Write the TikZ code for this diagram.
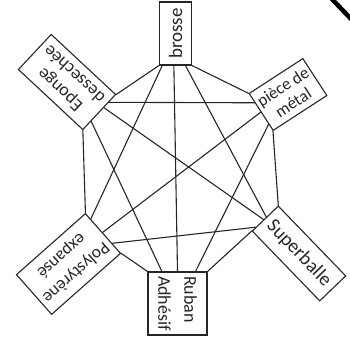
\documentclass[tikz,border=0pt]{standalone}
\usepackage{fontspec}
\setmainfont{Carlito}
\usetikzlibrary{calc}
\tikzset{
    matbox/.style={draw, rectangle, align=center, inner sep=2pt, line width=1.1pt, font=\fontsize{18}{21}\selectfont},
    matline/.style={draw, line width=1.1pt, line cap=round},
    scanmark/.style={draw, line width=4.5pt}
}

\begin{document}
\begin{tikzpicture}[x=1pt, y=1pt, color=black!85]
    \useasboundingbox (0,0) rectangle (350,350);
    \node[matbox, rotate=90, minimum width=63pt, minimum height=32pt, font=\fontsize{19}{21}\selectfont] (brosse) at (175.5,316.5) {brosse};
    \node[matbox, rotate=33, minimum width=64pt, minimum height=44pt, font=\fontsize{17}{19}\selectfont] (metal) at (288,255.5) {pièce de\\métal};
    \node[matbox, rotate=-46, minimum width=97pt, minimum height=36pt, font=\fontsize{19.5}{21}\selectfont] (superballe) at (299,96.5) {Superballe};
    \node[matbox, rotate=-90, minimum width=63pt, minimum height=59pt, align=left, font=\fontsize{18}{26}\selectfont] (ruban) at (177.5,46.5) {Ruban\\Adhésif};
    \node[matbox, rotate=221.5, minimum width=92pt, minimum height=53pt, font=\fontsize{17.5}{22}\selectfont] (poly) at (68.5,86) {Polystyrène\\expansé};
    \node[matbox, rotate=137, minimum width=88pt, minimum height=48pt, font=\fontsize{18}{21}\selectfont] (eponge) at (67,268) {Eponge\\dessechée};

    \foreach \src/\dst in {brosse/metal, metal/superballe, superballe/ruban, ruban/poly, poly/eponge, eponge/brosse}
        \draw[matline] (\src.south west) -- (\dst.north west);

    \foreach \src/\fs/\dst/\fd in {eponge/0.78/metal/0.25, eponge/0.63/superballe/0.55, eponge/0.25/ruban/0.76,
        brosse/0.1/poly/0.85, brosse/0.45/ruban/0.5, brosse/0.8/superballe/0.45,
        metal/0.5/poly/0.52, metal/0.82/ruban/0.2, poly/0.25/superballe/0.85}
        \draw[matline] ($(\src.north west)!\fs!(\src.south west)$) -- ($(\dst.north west)!\fd!(\dst.south west)$);

    \begin{scope}
        \clip (0,0) rectangle (350,350);
        \draw[scanmark, black] (330,353) -- (353,329);
    \end{scope}
\end{tikzpicture}
\end{document}
